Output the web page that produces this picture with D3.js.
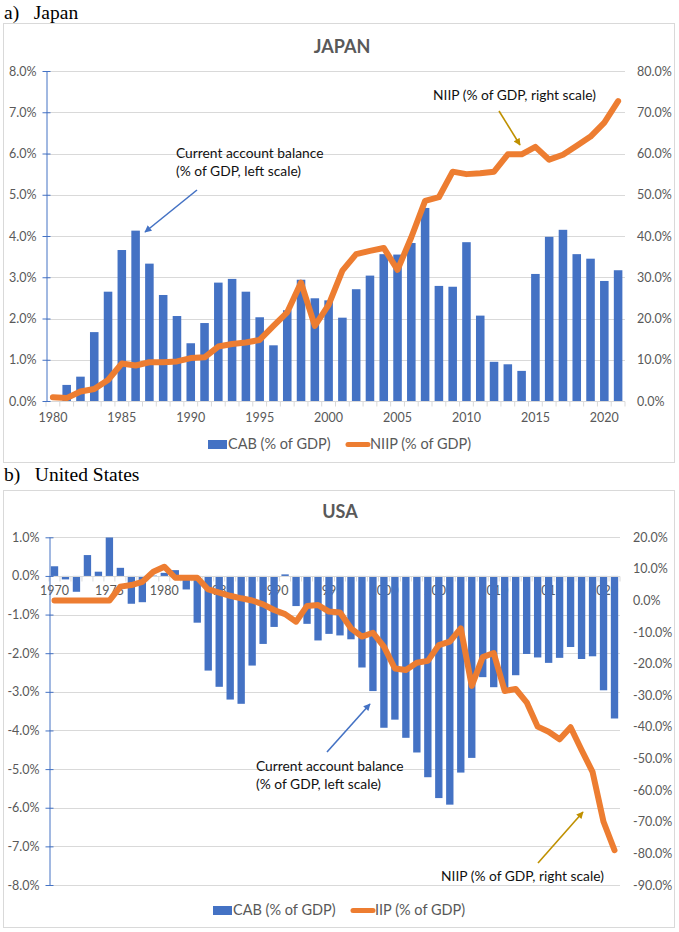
<!DOCTYPE html>
<html>
<head>
<meta charset="utf-8">
<script src="https://cdn.jsdelivr.net/npm/d3@7"></script>
<style>
  body { margin: 0; background: #fff; }
  svg { display: block; }
</style>
</head>
<body>
<svg id="root" width="679" height="932"></svg>
<script>
// ---- Japan data (1980-2021) ----
const jpYears = [1980, 1981, 1982, 1983, 1984, 1985, 1986, 1987, 1988, 1989,
                 1990, 1991, 1992, 1993, 1994, 1995, 1996, 1997, 1998, 1999,
                 2000, 2001, 2002, 2003, 2004, 2005, 2006, 2007, 2008, 2009,
                 2010, 2011, 2012, 2013, 2014, 2015, 2016, 2017, 2018, 2019,
                 2020, 2021];
// current account balance, % of GDP (left scale)
const jpCab = [-1.0, 0.39, 0.59, 1.67, 2.65, 3.66, 4.13, 3.33, 2.57, 2.06,
               1.40, 1.89, 2.87, 2.96, 2.65, 2.03, 1.35, 2.20, 2.94, 2.49,
               2.44, 2.02, 2.71, 3.04, 3.56, 3.55, 3.83, 4.68, 2.79, 2.77,
               3.85, 2.07, 0.95, 0.89, 0.73, 3.08, 3.98, 4.15, 3.56, 3.45,
               2.91, 3.17];
// net international investment position, % of GDP (right scale)
const jpNiip = [0.9, 0.7, 2.3, 2.9, 5.1, 9.1, 8.6, 9.4, 9.4, 9.6,
                10.4, 10.6, 13.2, 13.8, 14.2, 14.8, 18.2, 21.5, 28.7, 18.2,
                23.3, 31.6, 35.6, 36.4, 37.1, 31.8, 39.7, 48.5, 49.4, 55.6,
                55.0, 55.2, 55.6, 59.8, 59.8, 61.6, 58.5, 59.7, 61.9, 64.1,
                67.5, 72.7];
const jpLeftTicks = [0, 1, 2, 3, 4, 5, 6, 7, 8];
const jpRightTicks = [0, 10, 20, 30, 40, 50, 60, 70, 80];
const jpYearLabels = [1980, 1985, 1990, 1995, 2000, 2005, 2010, 2015, 2020];

// ---- United States data (1970-2021) ----
const usYears = [1970, 1971, 1972, 1973, 1974, 1975, 1976, 1977, 1978, 1979,
                 1980, 1981, 1982, 1983, 1984, 1985, 1986, 1987, 1988, 1989,
                 1990, 1991, 1992, 1993, 1994, 1995, 1996, 1997, 1998, 1999,
                 2000, 2001, 2002, 2003, 2004, 2005, 2006, 2007, 2008, 2009,
                 2010, 2011, 2012, 2013, 2014, 2015, 2016, 2017, 2018, 2019,
                 2020, 2021];
const usCab = [0.25, -0.09, -0.41, 0.54, 0.11, 1.00, 0.21, -0.72, -0.68, 0.01,
               0.08, 0.15, -0.35, -1.21, -2.45, -2.87, -3.20, -3.31, -2.32, -1.76,
               -1.32, 0.04, -0.78, -1.24, -1.67, -1.50, -1.54, -1.64, -2.37, -2.98,
               -3.93, -3.72, -4.19, -4.57, -5.21, -5.75, -5.92, -5.09, -4.71, -2.62,
               -2.88, -2.90, -2.57, -2.02, -2.11, -2.25, -2.12, -1.84, -2.15, -2.08,
               -2.96, -3.69];
const usNiip = [0, 0, 0, 0, 0, 0, 4.4, 4.9, 5.9, 9.1,
                10.7, 7.2, 7.2, 7.2, 3.5, 2.5, 1.5, 0.7, 0.0, -1.2,
                -3.0, -4.3, -6.7, -1.7, -1.4, -3.5, -3.8, -8.8, -11.4, -10.2,
                -14.6, -21.5, -22.0, -19.7, -19.1, -14.1, -13.0, -8.8, -27.0, -17.9,
                -16.6, -28.6, -28.0, -32.2, -39.9, -41.5, -43.9, -40.1, -47.3, -54.2,
                -70.0, -79.0];
const usLeftTicks = [1, 0, -1, -2, -3, -4, -5, -6, -7, -8];
const usRightTicks = [20, 10, 0, -10, -20, -30, -40, -50, -60, -70, -80, -90];
const usYearLabels = [1970, 1975, 1980, 1985, 1990, 1995, 2000, 2005, 2010, 2015, 2020];

const blue = "#4472C4";
const orange = "#ED7D31";
const gold = "#BF9000";
const grid = "#D9D9D9";
const labelGray = "#595959";
const font = "Lato, 'Open Sans', sans-serif";

const svg = d3.select("#root");

// arrowheads for the annotations
const defs = svg.append("defs");
[["arrowBlue", blue], ["arrowGold", gold]].forEach(([id, c]) => {
    defs.append("marker")
        .attr("id", id)
        .attr("viewBox", "0 0 10 10")
        .attr("refX", 9)
        .attr("refY", 5)
        .attr("markerUnits", "userSpaceOnUse")
        .attr("markerWidth", 8)
        .attr("markerHeight", 7)
        .attr("orient", "auto")
        .append("path")
        .attr("d", "M0,0 L10,5 L0,10 z")
        .attr("fill", c);
});

function fmtPct(d) {
    return d.toFixed(1) + "%";
}

function drawChart(o) {
    const g = svg.append("g").attr("id", o.id);

    // panel caption, e.g. "a)   Japan"
    g.append("text")
        .attr("x", 4)
        .attr("y", o.captionY)
        .attr("font-family", "'Liberation Serif', 'Times New Roman', serif")
        .attr("font-size", 19.5)
        .attr("fill", "#000")
        .attr("xml:space", "preserve")
        .text(o.caption);

    // chart border
    g.append("rect")
        .attr("x", o.box[0] + 0.5)
        .attr("y", o.box[1] + 0.5)
        .attr("width", o.box[2])
        .attr("height", o.box[3])
        .attr("fill", "#fff")
        .attr("stroke", grid);

    // title
    g.append("text")
        .attr("x", o.titleX)
        .attr("y", o.titleY)
        .attr("text-anchor", "middle")
        .attr("font-family", font)
        .attr("font-weight", "bold")
        .attr("font-size", 18)
        .attr("fill", labelGray)
        .text(o.title);

    const x = d3.scaleBand()
        .domain(o.years)
        .range([o.left, o.right])
        .paddingInner(o.pad)
        .paddingOuter(o.pad / 2);
    const yL = d3.scaleLinear().domain(o.leftDomain).range([o.bottom, o.top]);
    const yR = d3.scaleLinear().domain(o.rightDomain).range([o.bottom, o.top]);

    // gridlines
    g.append("g")
        .selectAll("line")
        .data(o.leftTicks)
        .join("line")
        .attr("x1", o.left)
        .attr("x2", o.right)
        .attr("y1", d => Math.round(yL(d)) + 0.5)
        .attr("y2", d => Math.round(yL(d)) + 0.5)
        .attr("stroke", grid)
        .attr("stroke-width", 1);

    // category axis sits on the zero line
    const zeroY = Math.round(yL(0)) + 0.5;
    const xAxis = g.append("g")
        .attr("transform", `translate(0,${zeroY + o.xLabelGap})`)
        .call(d3.axisBottom(x).tickValues(o.yearLabels).tickSize(0).tickPadding(0));
    xAxis.select(".domain").remove();
    xAxis.selectAll("text")
        .attr("font-family", font)
        .attr("font-size", 12.5)
        .attr("fill", labelGray);

    // category tick marks between bars
    g.append("g")
        .selectAll("line")
        .data(o.years.concat([null]))
        .join("line")
        .attr("x1", (d, i) => o.left + i * x.step())
        .attr("x2", (d, i) => o.left + i * x.step())
        .attr("y1", zeroY)
        .attr("y2", zeroY + 5)
        .attr("stroke", grid);

    // clip so bars below the left axis minimum are hidden
    g.append("clipPath")
        .attr("id", o.id + "-clip")
        .append("rect")
        .attr("x", o.left)
        .attr("y", o.top)
        .attr("width", o.right - o.left)
        .attr("height", o.bottom - o.top);

    // CAB bars
    g.append("g")
        .attr("clip-path", `url(#${o.id}-clip)`)
        .selectAll("rect")
        .data(o.years.map((yr, i) => ({ yr, v: o.cab[i] })))
        .join("rect")
        .attr("x", d => x(d.yr))
        .attr("width", x.bandwidth())
        .attr("y", d => yL(Math.max(0, d.v)))
        .attr("height", d => Math.abs(yL(d.v) - yL(0)))
        .attr("fill", blue);

    // zero axis line
    g.append("line")
        .attr("x1", o.left)
        .attr("x2", o.right)
        .attr("y1", zeroY)
        .attr("y2", zeroY)
        .attr("stroke", grid);

    // NIIP line
    const line = d3.line()
        .x(d => x(d.yr) + x.bandwidth() / 2)
        .y(d => yR(d.v));
    g.append("path")
        .datum(o.years.map((yr, i) => ({ yr, v: o.niip[i] })))
        .attr("d", line)
        .attr("fill", "none")
        .attr("stroke", orange)
        .attr("stroke-width", 6)
        .attr("stroke-linejoin", "round")
        .attr("stroke-linecap", "round");

    // left axis (blue line, crossing ticks)
    const leftAxis = g.append("g")
        .attr("transform", `translate(${o.left + 0.5},0)`)
        .call(d3.axisLeft(yL).tickValues(o.leftTicks).tickFormat(fmtPct)
            .tickSizeInner(4).tickSizeOuter(0).tickPadding(6));
    leftAxis.select(".domain").attr("stroke", blue);
    leftAxis.selectAll(".tick line").attr("stroke", blue).attr("x2", -4).attr("x1", 4);
    leftAxis.selectAll("text")
        .attr("font-family", font)
        .attr("font-size", 12.5)
        .attr("fill", labelGray);

    // right axis (labels only)
    const rightAxis = g.append("g")
        .attr("transform", `translate(${o.right},0)`)
        .call(d3.axisRight(yR).tickValues(o.rightTicks).tickFormat(fmtPct)
            .tickSize(0).tickPadding(o.rightPad));
    rightAxis.select(".domain").remove();
    rightAxis.selectAll("text")
        .attr("font-family", font)
        .attr("font-size", 12.5)
        .attr("fill", labelGray);

    // annotations
    o.notes.forEach(n => {
        const t = g.append("text")
            .attr("font-family", font)
            .attr("font-size", 13.8)
            .attr("fill", "#111");
        n.lines.forEach((s, i) => {
            t.append("tspan")
                .attr("x", n.x)
                .attr("y", n.y + i * 18)
                .text(s);
        });
        g.append("line")
            .attr("x1", n.arrow[0])
            .attr("y1", n.arrow[1])
            .attr("x2", n.arrow[2])
            .attr("y2", n.arrow[3])
            .attr("stroke", n.color)
            .attr("stroke-width", 1.6)
            .attr("marker-end", `url(#${n.marker})`);
    });

    // legend
    const lg = g.append("g").attr("transform", `translate(0,${o.legendY})`);
    lg.append("rect")
        .attr("x", o.legendX[0])
        .attr("y", -4)
        .attr("width", 19)
        .attr("height", 9)
        .attr("fill", blue);
    lg.append("text")
        .attr("x", o.legendX[0] + 20)
        .attr("y", 0)
        .attr("dy", "0.35em")
        .attr("font-family", font)
        .attr("font-size", 14.5)
        .attr("fill", labelGray)
        .text("CAB (% of GDP)");
    lg.append("line")
        .attr("x1", o.legendX[1] + 2)
        .attr("x2", o.legendX[1] + 22)
        .attr("y1", 0.5)
        .attr("y2", 0.5)
        .attr("stroke", orange)
        .attr("stroke-width", 5)
        .attr("stroke-linecap", "round");
    lg.append("text")
        .attr("x", o.legendX[1] + 24)
        .attr("y", 0)
        .attr("dy", "0.35em")
        .attr("font-family", font)
        .attr("font-size", 14.5)
        .attr("fill", labelGray)
        .text(o.niipLegend);
}

drawChart({
    id: "japan",
    caption: "a)   Japan",
    captionY: 19,
    box: [3, 23, 671, 439],
    title: "JAPAN",
    titleX: 342,
    titleY: 53,
    years: jpYears,
    cab: jpCab,
    niip: jpNiip,
    left: 46, right: 625, top: 71, bottom: 401,
    pad: 0.38,
    leftDomain: [0, 8],
    rightDomain: [0, 80],
    leftTicks: jpLeftTicks,
    rightTicks: jpRightTicks,
    yearLabels: jpYearLabels,
    xLabelGap: 12,
    rightPad: 12,
    notes: [
        { lines: ["Current account balance", "(% of GDP, left scale)"], x: 176, y: 158,
          arrow: [197, 190, 145, 232], color: blue, marker: "arrowBlue" },
        { lines: ["NIIP (% of GDP, right scale)"], x: 433, y: 100,
          arrow: [499, 111, 520, 145], color: gold, marker: "arrowGold" }
    ],
    legendY: 444,
    legendX: [208, 346],
    niipLegend: "NIIP (% of GDP)"
});

drawChart({
    id: "usa",
    caption: "b)   United States",
    captionY: 481,
    box: [3, 490, 671, 437],
    title: "USA",
    titleX: 340,
    titleY: 518,
    years: usYears,
    cab: usCab,
    niip: usNiip,
    left: 49, right: 620, top: 537.3, bottom: 885,
    pad: 0.33,
    leftDomain: [-8, 1],
    rightDomain: [-90, 20],
    leftTicks: usLeftTicks,
    rightTicks: usRightTicks,
    yearLabels: usYearLabels,
    xLabelGap: 10,
    rightPad: 13,
    notes: [
        { lines: ["Current account balance", "(% of GDP, left scale)"], x: 256, y: 771,
          arrow: [327, 752, 370, 704], color: blue, marker: "arrowBlue" },
        { lines: ["NIIP (% of GDP, right scale)"], x: 441, y: 881,
          arrow: [538, 863, 583, 812], color: gold, marker: "arrowGold" }
    ],
    legendY: 910,
    legendX: [213, 351],
    niipLegend: "IIP (% of GDP)"
});
</script>
</body>
</html>
